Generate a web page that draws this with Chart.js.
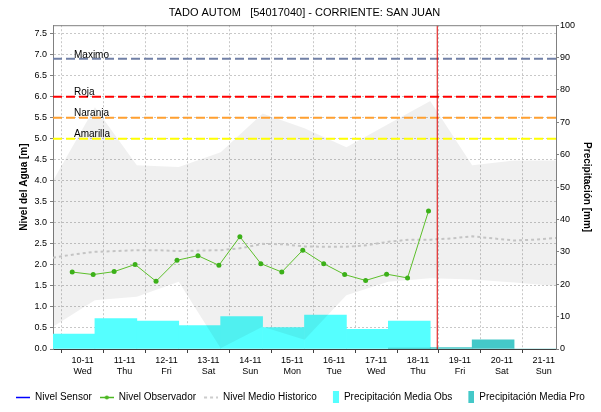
<!DOCTYPE html>
<html lang="es">
<head>
<meta charset="UTF-8">
<title>TADO AUTOM - CORRIENTE: SAN JUAN</title>
<script src="https://cdn.jsdelivr.net/npm/chart.js"></script>
<style>
    body { margin: 0; background: #fff; }
    #wrap { width: 601px; height: 412px; }
</style>
</head>
<body>
<div id="wrap"><canvas id="nivelChart" width="601" height="412"></canvas></div>
<script>
// ---- data (dd-mm hh:mm, november) ----
const rangeStart = '09-11 07:00';
const rangeEnd = '21-11 07:00';
const nowTime = '18-11 11:00';

const dayTicks = ['10-11', '11-11', '12-11', '13-11', '14-11', '15-11', '16-11', '17-11', '18-11', '19-11', '20-11', '21-11'];
const dayNames = ['Wed', 'Thu', 'Fri', 'Sat', 'Sun', 'Mon', 'Tue', 'Wed', 'Thu', 'Fri', 'Sat', 'Sun'];

const sensorTimes = [];
const sensorLevels = [];

const obsTimes = ['09-11 18:00', '10-11 06:00', '10-11 18:00', '11-11 06:00', '11-11 18:00', '12-11 06:00',
    '12-11 18:00', '13-11 06:00', '13-11 18:00', '14-11 06:00', '14-11 18:00', '15-11 06:00',
    '15-11 18:00', '16-11 06:00', '16-11 18:00', '17-11 06:00', '17-11 18:00', '18-11 06:00'];
const obsLevels = [1.83, 1.77, 1.84, 2.01, 1.61, 2.11, 2.22, 1.99, 2.67, 2.03, 1.83, 2.35, 2.03, 1.77, 1.63, 1.78, 1.69, 3.28];

const histTimes = ['09-11 07:00', '09-11 19:00', '10-11 07:00', '10-11 19:00', '11-11 07:00', '11-11 19:00',
    '12-11 07:00', '12-11 19:00', '13-11 07:00', '13-11 19:00', '14-11 07:00', '14-11 19:00',
    '15-11 07:00', '15-11 19:00', '16-11 07:00', '16-11 19:00', '17-11 07:00', '17-11 19:00',
    '18-11 07:00', '18-11 19:00', '19-11 07:00', '19-11 19:00', '20-11 07:00', '20-11 19:00', '21-11 07:00'];
const histLevels = [2.17, 2.25, 2.31, 2.33, 2.35, 2.35, 2.33, 2.34, 2.35, 2.40, 2.50, 2.49,
    2.44, 2.43, 2.43, 2.47, 2.55, 2.60, 2.60, 2.63, 2.68, 2.63, 2.58, 2.60, 2.64];

const bandTimes = ['09-11 07:00', '10-11 07:00', '11-11 07:00', '12-11 07:00', '13-11 07:00', '14-11 07:00', '15-11 07:00',
    '16-11 07:00', '17-11 07:00', '18-11 07:00', '19-11 07:00', '20-11 07:00', '21-11 07:00'];
const bandUpper = [4.0, 5.75, 4.37, 4.33, 4.68, 5.6, 5.25, 4.8, 5.35, 5.9, 4.37, 4.48, 4.48];
const bandLower = [0.53, 1.16, 1.24, 1.6, 0.02, 0.53, 0.22, 1.28, 1.6, 1.68, 1.65, 1.58, 1.5];

// daily precipitation (hydrological day 07:00 -> 07:00, plotted at its middle)
const obsPrecipTimes = ['09-11 19:00', '10-11 19:00', '11-11 19:00', '12-11 19:00', '13-11 19:00',
    '14-11 19:00', '15-11 19:00', '16-11 19:00', '17-11 19:00'];
const obsPrecip = [4.6, 9.4, 8.6, 7.2, 10.0, 6.6, 10.5, 6.1, 8.6];
const proPrecipTimes = ['17-11 19:00', '18-11 19:00', '19-11 19:00', '20-11 19:00'];
const proPrecip = [0.3, 0.4, 2.8, 0];

const thresholdNames = ['Maximo', 'Roja', 'Naranja', 'Amarilla'];
const thresholdValues = [6.9, 6.0, 5.5, 5.0];
const thresholdColors = ['#7180a6', '#ff0000', '#ffa030', '#ffff00'];

// ---- helpers ----
// days since 10-11 00:00
function toDays(s) {
    const [d, t] = s.split(' ');
    const day = parseInt(d.split('-')[0], 10);
    const [h, m] = (t || '00:00').split(':').map(Number);
    return day - 10 + h / 24 + m / 1440;
}
const pts = (times, vals) => times.map((t, i) => ({ x: toDays(t), y: vals[i] }));
const xMin = toDays(rangeStart);
const xMax = toDays(rangeEnd);

function legendSymbol(kind, color) {
    const c = document.createElement('canvas');
    c.width = 14; c.height = 12;
    const g = c.getContext('2d');
    g.strokeStyle = color; g.fillStyle = color;
    if (kind === 'rect') {
        g.fillRect(8, 0, 6, 12);
    } else {
        g.lineWidth = kind === 'dash' ? 2 : 1.5;
        if (kind === 'dash') g.setLineDash([3, 3]);
        g.beginPath(); g.moveTo(0, 6.5); g.lineTo(14, 6.5); g.stroke();
        if (kind === 'point') { g.beginPath(); g.arc(7, 6.5, 2, 0, Math.PI * 2); g.fill(); }
    }
    return c;
}

const datasets = [
    { label: 'Nivel Sensor', data: pts(sensorTimes, sensorLevels), borderColor: '#0000ff', borderWidth: 1, pointRadius: 0, order: 1 },
    { label: 'Nivel Observador', data: pts(obsTimes, obsLevels), borderColor: '#5cbf2a', borderWidth: 1,
      pointRadius: 2.5, pointBackgroundColor: '#3cb019', pointBorderWidth: 0, order: 1 },
    { label: 'Nivel Medio Historico', data: pts(histTimes, histLevels), borderColor: '#c4c4c4', borderWidth: 2,
      borderDash: [3, 3], pointRadius: 0, order: 3 },
    { label: 'band max', data: pts(bandTimes, bandUpper), borderWidth: 0, borderColor: 'rgba(0,0,0,0)', pointRadius: 0,
      fill: '+1', backgroundColor: 'rgba(0,0,0,0.06)', order: 4 },
    { label: 'band min', data: pts(bandTimes, bandLower), borderWidth: 0, borderColor: 'rgba(0,0,0,0)', pointRadius: 0, fill: false, order: 4 }
];
thresholdNames.forEach((name, i) => {
    datasets.push({ label: name, data: [{ x: xMin, y: thresholdValues[i] }, { x: xMax, y: thresholdValues[i] }],
        borderColor: thresholdColors[i], borderWidth: 2, borderDash: [9, 4], pointRadius: 0, order: 2 });
});
datasets.push({ label: 'ahora', data: [{ x: toDays(nowTime), y: 0 }, { x: toDays(nowTime), y: 7.7 }],
    borderColor: '#dd0000', borderWidth: 1, pointRadius: 0, order: 0 });
datasets.push({ type: 'bar', label: 'Precipitación Media Obs', data: pts(obsPrecipTimes, obsPrecip), yAxisID: 'y1',
    backgroundColor: '#55ffff', borderWidth: 0, grouped: false, barPercentage: 1, categoryPercentage: 1, order: 6 });
datasets.push({ type: 'bar', label: 'Precipitación Media Pro', data: pts(proPrecipTimes, proPrecip), yAxisID: 'y1',
    backgroundColor: '#44c8c8', borderWidth: 0, grouped: false, barPercentage: 1, categoryPercentage: 1, order: 5 });

const legendItems = [
    ['Nivel Sensor', legendSymbol('line', '#0000ff'), 0],
    ['Nivel Observador', legendSymbol('point', '#4cb822'), 1],
    ['Nivel Medio Historico', legendSymbol('dash', '#cccccc'), 2],
    ['Precipitación Media Obs', legendSymbol('rect', '#55ffff'), datasets.length - 2],
    ['Precipitación Media Pro', legendSymbol('rect', '#44c8c8'), datasets.length - 1]
];

// threshold names above their lines + frame top
const extras = {
    id: 'extras',
    afterDatasetsDraw(chart) {
        const { ctx, chartArea, scales } = chart;
        ctx.save();
        ctx.strokeStyle = '#808080'; ctx.lineWidth = 1;
        ctx.beginPath(); ctx.moveTo(chartArea.left, chartArea.top + 0.5); ctx.lineTo(chartArea.right, chartArea.top + 0.5); ctx.stroke();
        ctx.font = '10px Arial, "Liberation Sans", sans-serif';
        ctx.fillStyle = '#000'; ctx.textBaseline = 'middle'; ctx.textAlign = 'left';
        thresholdNames.forEach((name, i) => {
            ctx.fillText(name, chartArea.left + 21, scales.y.getPixelForValue(thresholdValues[i]) - 4);
        });
        ctx.restore();
    }
};

Chart.defaults.font.family = 'Arial, "Liberation Sans", sans-serif';
Chart.defaults.color = '#000';

new Chart(document.getElementById('nivelChart'), {
    type: 'line',
    data: { datasets },
    options: {
        responsive: false,
        animation: false,
        events: [],
        scales: {
            x: {
                type: 'linear', min: xMin, max: xMax, offset: false,
                afterBuildTicks: s => { s.ticks = dayTicks.map(d => ({ value: toDays(d) })); },
                afterFit: s => { s.height = 35; },
                ticks: { autoSkip: false, maxRotation: 0, padding: 2, font: { size: 9 },
                         callback: (v, i) => [dayTicks[i], dayNames[i]] },
                grid: { color: '#c8c8c8', tickLength: 4, tickColor: '#404040' },
                border: { color: '#404040', dash: [2, 2] }
            },
            y: {
                position: 'left', min: 0, max: 7.7,
                afterFit: s => { s.width = 53; },
                ticks: { stepSize: 0.5, includeBounds: false, padding: 3, font: { size: 9 }, callback: v => v.toFixed(1) },
                grid: { color: '#c8c8c8', tickLength: 3, tickColor: '#808080' },
                border: { color: '#808080', dash: [2, 2] },
                title: { display: true, text: 'Nivel del Agua [m]', font: { size: 10, weight: 'bold' }, padding: { top: 18, bottom: 0 } }
            },
            y1: {
                position: 'right', min: 0, max: 100,
                afterFit: s => { s.width = 45; },
                ticks: { stepSize: 10, padding: 1, font: { size: 9 } },
                grid: { drawOnChartArea: false, tickLength: 3, tickColor: '#808080' },
                border: { color: '#808080' },
                title: { display: true, text: 'Precipitación [mm]', font: { size: 10, weight: 'bold' }, padding: { top: 8, bottom: 0 } }
            }
        },
        plugins: {
            title: {
                display: true, fullSize: false,
                text: 'TADO AUTOM   [54017040] - CORRIENTE: SAN JUAN',
                font: { size: 11, weight: 'normal' }, color: '#000',
                padding: { top: 6, bottom: 6 }
            },
            legend: {
                position: 'bottom',
                labels: {
                    usePointStyle: true, pointStyleWidth: 14, padding: 8,
                    font: { size: 10 }, color: '#000',
                    generateLabels: () => legendItems.map(([text, sym, idx]) => ({
                        text, pointStyle: sym, datasetIndex: idx, hidden: false,
                        fillStyle: 'rgba(0,0,0,0)', strokeStyle: 'rgba(0,0,0,0)', lineWidth: 0, fontColor: '#000'
                    }))
                }
            },
            tooltip: { enabled: false }
        }
    },
    plugins: [extras]
});
</script>
</body>
</html>
